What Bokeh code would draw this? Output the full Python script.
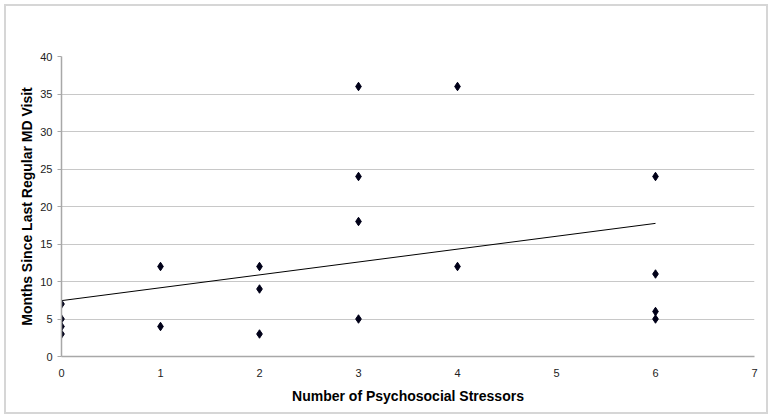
from bokeh.plotting import figure
from bokeh.models import ColumnDataSource, FixedTicker, Range1d
from bokeh.embed import file_html
from bokeh.resources import INLINE

stressors = [0, 0, 0, 0, 1, 1, 2, 2, 2, 3, 3, 3, 3, 4, 4, 6, 6, 6, 6]
months = [3, 4, 5, 7, 4, 12, 3, 9, 12, 5, 18, 24, 36, 12, 36, 5, 6, 11, 24]
trend_x = [0, 6]
trend_y = [7.45, 17.75]
x_ticks = [0, 1, 2, 3, 4, 5, 6, 7]
y_ticks = [0, 5, 10, 15, 20, 25, 30, 35, 40]

FONT = "Liberation Sans"

p = figure(width=760, height=406, output_backend="svg", toolbar_location=None,
           x_range=Range1d(0, 7), y_range=Range1d(0, 40),
           min_border_left=55, min_border_right=12, min_border_top=50, min_border_bottom=56)
p.styles = {"margin-left": "6px", "margin-top": "6px", "outline": "2px solid #d6d6d6"}
p.outline_line_color = None
p.background_fill_color = "white"
p.border_fill_color = "white"

src = ColumnDataSource(dict(x=stressors, y=months))
p.line(trend_x, trend_y, line_color="#000000", line_width=1)
p.scatter("x", "y", source=src, marker="diamond", size=8.5, fill_color="#000018", line_color="#000018")

p.xgrid.grid_line_color = None
p.ygrid.grid_line_color = "#c8c8c8"
p.ygrid.grid_line_width = 1.2

p.xaxis.ticker = FixedTicker(ticks=x_ticks)
p.yaxis.ticker = FixedTicker(ticks=y_ticks)
for ax in (p.xaxis[0], p.yaxis[0]):
    ax.axis_line_color = "#a8a8a8"
    ax.axis_line_width = 1.5
    ax.major_tick_line_color = "#a8a8a8"
    ax.major_tick_in = 0
    ax.major_tick_out = 4
    ax.minor_tick_line_color = None
    ax.major_label_text_font = FONT
    ax.major_label_text_font_size = "11px"
    ax.major_label_text_color = "#222222"
    ax.axis_label_text_font = FONT
    ax.axis_label_text_font_style = "bold"
    ax.axis_label_text_font_size = "14px"
    ax.axis_label_text_color = "#000000"

p.xaxis.major_tick_out = 0
p.xaxis.major_label_standoff = 12
p.yaxis.major_label_standoff = 5
p.xaxis.axis_label = "Number of Psychosocial Stressors"
p.yaxis.axis_label = "Months Since Last Regular MD Visit"
p.xaxis.axis_label_standoff = 8
p.yaxis.axis_label_standoff = 2

open("out.html", "w").write(file_html(p, INLINE))
